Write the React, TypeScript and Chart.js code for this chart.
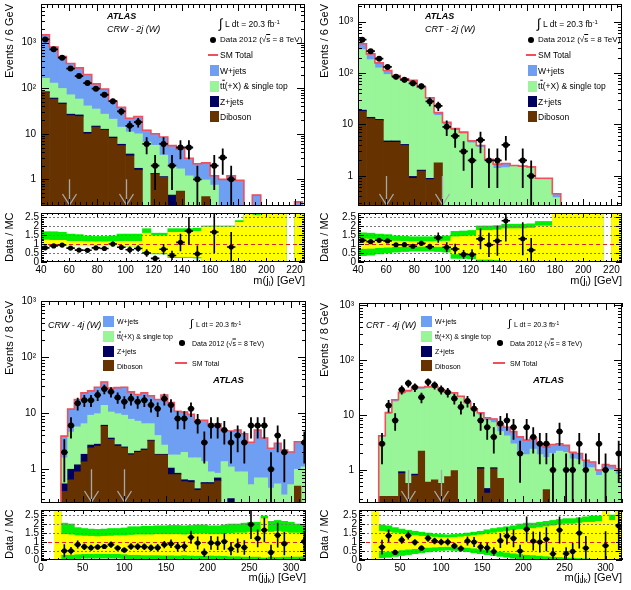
import React, { useEffect, useRef } from "react";
import { Chart, registerables } from "chart.js";

Chart.register(...registerables);

const FONT = "'Liberation Sans', Arial, Helvetica, sans-serif";
const FLOOR = 1e-4;

// ---------- tick labels ----------
const massTicks2j = [40, 60, 80, 100, 120, 140, 160, 180, 200, 220];
const massTicks4j = [0, 50, 100, 150, 200, 250, 300];
const eventTicks = [1, 10, 100, 1000];
const eventTickLabels = ["1", "10", "10²", "10³"];
const ratioTicks = [0, 0.5, 1, 1.5, 2, 2.5];
const ratioTickLabels = ["0", "0.5", "1", "1.5", "2", "2.5"];
const cutValues = [60, 100];

// ---------- CRW - 2j (W): m(j_l), 6 GeV bins from 40 GeV ----------
const crw2jFirstEdge = 40;
const crw2jBinWidth = 6;
const crw2jWjets = [1334, 670, 401, 278, 222, 159, 90, 69, 31, 24, 11, 14, 5.4, 4.4, 5.1, 3.6, 2.9, 1.7, 1.15, 1.33, 0.45, 0.8, 1.0, 0.8, 0, 0.45, 0, 0, 0, 0, 0.32];
const crw2jTtbar = [82, 69, 51.5, 45, 32, 30.2, 20.2, 14.4, 12.5, 8.1, 7.4, 8.25, 6.6, 4.25, 2.25, 1.45, 1.15, 1.2, 1.05, 0.55, 0.75, 0.2, 0.2, 0.15, 0, 0, 0, 0, 0, 0, 0];
const crw2jZjets = [4, 3, 2.5, 2, 2, 0.8, 0.8, 0.6, 0.5, 0.4, 0.3, 0.15, 0, 0.05, 0.05, 0.45, 0, 0, 0, 0, 0, 0, 0, 0, 0, 0, 0, 0, 0, 0, 0];
const crw2jDiboson = [80, 58, 45, 25, 24, 10, 14, 12, 8, 5.5, 3.3, 1.6, 0, 1.3, 1.1, 0, 0.55, 0, 0, 0.42, 0, 0, 0, 0, 0, 0, 0, 0, 0, 0, 0];
const crw2jData = [1180, 715, 470, 270, 185, 130, 98, 72, 52, 31, 15, 18, 6, 2, 6, 2, 5, 5, 1, 0, 2, 3, 1, 0, 0, 0, 0, 0, 0, 0, 0];
const crw2jBandGreenHi = [1.68, 1.68, 1.65, 1.55, 1.52, 1.45, 1.42, 1.42, 1.45, 1.55, 1.55, 1.55, 1.85, 1.6, 1.6, 1.85, 1.85, 1.85, 1.88, 2.0, 2.0, 2.0, 2.0, 2.3, 2.8, 2.7, 2.8, 2.8, 2.8, 0, 2.8];
const crw2jBandYellowHi = [1.22, 1.2, 1.2, 1.15, 1.15, 1.13, 1.12, 1.12, 1.13, 1.15, 1.15, 1.15, 1.6, 1.45, 1.45, 1.65, 1.65, 1.65, 1.7, 1.95, 1.95, 1.95, 1.95, 2.2, 2.8, 2.6, 2.8, 2.8, 2.8, 0, 2.8];
const crw2jBandYellowLo = [0.9, 0.9, 0.9, 0.9, 0.9, 0.9, 0.9, 0.9, 0.9, 0.9, 0.88, 0.88, 0.55, 0.5, 0.5, 0.3, 0.3, 0.3, 0.28, 0, 0, 0, 0, 0, 0, 0, 0, 0, 0, 0, 0];
const crw2jBandGreenLo = [0.9, 0.9, 0.9, 0.9, 0.9, 0.9, 0.9, 0.9, 0.9, 0.9, 0.88, 0.88, 0.5, 0.45, 0.45, 0.25, 0.25, 0.25, 0.22, 0, 0, 0, 0, 0, 0, 0, 0, 0, 0, 0, 0];

// ---------- CRT - 2j (W): m(j_l), 6 GeV bins from 40 GeV ----------
const crt2jFirstEdge = 40;
const crt2jBinWidth = 6;
const crt2jWjets = [85, 53, 32, 18, 10, 7, 7, 3, 2, 2, 1, 0.6, 0.5, 0.4, 0.3, 0.05, 0.3, 0.3, 0.05, 0.05, 0.05, 0.05, 0.05, 0.07, 0, 0, 0, 0, 0, 0, 0];
const crt2jTtbar = [266, 168, 113, 89, 74, 66, 64, 48.7, 30.1, 13.2, 10, 7.7, 6.6, 4.4, 3.6, 2.05, 1.4, 1.45, 1.55, 1.5, 1.45, 0.85, 0.85, 0.38, 0, 0, 0, 0, 0, 0, 0];
const crt2jZjets = [1, 0.8, 0.6, 0.3, 0.3, 0.2, 0.08, 0.05, 0.05, 0, 0, 0, 0, 0, 0, 0, 0, 0, 0, 0, 0, 0, 0, 0, 0, 0, 0, 0, 0, 0, 0];
const crt2jDiboson = [18, 13, 12, 4.5, 4.5, 3.9, 0.9, 1.25, 0.85, 1.8, 0, 0, 0, 0, 0, 0, 0, 0, 0, 0, 0, 0, 0, 0, 0, 0, 0, 0, 0, 0, 0];
const crt2jData = [445, 265, 190, 131, 85, 74, 63, 55, 28, 23, 9, 6, 3, 2, 5, 2, 2, 4, 0, 2, 1, 0, 0, 0, 0, 0, 0, 0, 0, 0, 0];
const crt2jBandGreenHi = [1.62, 1.6, 1.55, 1.52, 1.45, 1.42, 1.4, 1.4, 1.4, 1.42, 1.45, 1.7, 1.72, 1.75, 2.0, 2.0, 2.02, 2.1, 2.1, 2.1, 2.12, 2.25, 2.25, 2.7, 2.8, 2.8, 2.8, 2.8, 2.8, 0, 2.8];
const crt2jBandYellowHi = [1.28, 1.27, 1.22, 1.2, 1.16, 1.15, 1.13, 1.13, 1.13, 1.14, 1.16, 1.4, 1.42, 1.45, 1.75, 1.75, 1.78, 1.85, 1.85, 1.85, 1.88, 2.0, 2.0, 2.65, 2.8, 2.8, 2.8, 2.8, 2.8, 0, 2.8];
const crt2jBandYellowLo = [0.75, 0.76, 0.8, 0.82, 0.85, 0.86, 0.87, 0.87, 0.87, 0.86, 0.85, 0.45, 0.45, 0.42, 0.15, 0.15, 0.12, 0, 0, 0, 0, 0, 0, 0, 0, 0, 0, 0, 0, 0, 0];
const crt2jBandGreenLo = [0.35, 0.38, 0.45, 0.5, 0.55, 0.58, 0.6, 0.6, 0.6, 0.58, 0.55, 0.2, 0.2, 0.18, 0.03, 0.03, 0.02, 0, 0, 0, 0, 0, 0, 0, 0, 0, 0, 0, 0, 0, 0];

// ---------- CRW - 4j (W): m(j_i j_k), 8 GeV bins from 0 ----------
const crw4jFirstEdge = 0;
const crw4jBinWidth = 8;
const crw4jWjets = [0, 0, 0, 2.3, 7.2, 11.8, 16.5, 15.8, 19.2, 22.2, 17.5, 18.7, 19.8, 16.2, 14.3, 16.5, 14, 13.5, 18.3, 13.7, 9, 8.5, 7.9, 5.8, 6.1, 5.4, 5.6, 3.5, 3.7, 4.1, 3.4, 2.5, 4.3, 2.9, 1.9, 2.35, 1.85, 1.5, 2.1, 1.8];
const crw4jTtbar = [0, 0, 0, 1.05, 3.6, 4.5, 4.65, 6.5, 7.0, 7.7, 6.9, 7.05, 6.7, 5.9, 5.1, 4.2, 3.2, 2.15, 0.85, 0.75, 0.95, 1.35, 0.97, 1.15, 0.79, 0.32, 0.15, 1.37, 0.8, 0.9, 0.9, 0.53, 0.7, 0.7, 0.46, 0.55, 0.35, 0.53, 0.5, 1.1];
const crw4jZjets = [0, 0, 0, 0.15, 0.35, 0.3, 0.5, 0.3, 0.2, 0.3, 0.2, 0.15, 0.1, 0.1, 0.1, 0.1, 0.1, 0.05, 0.05, 0.25, 0.05, 0.05, 0.05, 0.03, 0.03, 0.03, 0.08, 0, 0.3, 0, 0, 0, 0, 0, 0, 0, 0, 0, 0, 0];
const crw4jDiboson = [0, 0, 0, 0.4, 0.65, 0.9, 1.35, 2.4, 2.6, 5.8, 3.4, 2.6, 2.4, 1.8, 2.0, 2.2, 3.2, 1.8, 1.8, 0.8, 0.8, 0.6, 0.58, 0.42, 0.55, 0.55, 0.62, 0, 0, 0, 0, 0, 0, 0, 0, 0, 0, 0, 0.5, 0];
const crw4jData = [0, 0, 0, 2, 6, 15, 17, 17, 21, 27, 24, 19, 16, 18, 16, 17, 14, 12, 18, 14, 8, 8, 12, 7, 3, 6, 6, 5, 3, 4, 3, 6, 6, 6, 1, 4, 2, 0, 0, 3];
const crw4jBandGreenHi = [0, 0, 2.8, 2.05, 2.0, 1.8, 1.75, 1.72, 1.7, 1.72, 1.75, 1.75, 1.78, 1.85, 1.85, 1.88, 1.88, 1.9, 1.9, 1.92, 1.92, 1.9, 1.92, 1.95, 1.95, 1.9, 1.9, 1.95, 2.0, 2.0, 2.05, 2.1, 2.1, 2.45, 2.15, 2.2, 2.15, 2.1, 2.0, 1.95];
const crw4jBandYellowHi = [0, 0, 2.8, 1.42, 1.4, 1.35, 1.33, 1.32, 1.3, 1.32, 1.33, 1.35, 1.35, 1.38, 1.4, 1.4, 1.4, 1.42, 1.42, 1.42, 1.42, 1.4, 1.42, 1.45, 1.45, 1.42, 1.42, 1.45, 1.48, 1.5, 1.5, 1.55, 1.55, 2.3, 1.55, 1.6, 1.55, 1.5, 1.5, 1.45];
const crw4jBandYellowLo = [0, 0, 0, 0.3, 0.3, 0.33, 0.35, 0.35, 0.36, 0.35, 0.35, 0.35, 0.33, 0.3, 0.3, 0.28, 0.28, 0.28, 0.27, 0.27, 0.26, 0.28, 0.26, 0.25, 0.25, 0.26, 0.25, 0.24, 0.22, 0.22, 0.2, 0.2, 0.2, 0.15, 0.2, 0.18, 0.2, 0.2, 0.2, 0.22];
const crw4jBandGreenLo = [0, 0, 0, 0.05, 0.05, 0.08, 0.1, 0.1, 0.1, 0.1, 0.1, 0.1, 0.08, 0.05, 0.05, 0.04, 0.04, 0.04, 0.03, 0.03, 0.02, 0.03, 0.02, 0.02, 0.02, 0.02, 0.02, 0.01, 0, 0, 0, 0, 0, 0, 0, 0, 0, 0, 0, 0];

// ---------- CRT - 4j (W): m(j_i j_k), 8 GeV bins from 0 ----------
const crt4jFirstEdge = 0;
const crt4jBinWidth = 8;
const crt4jWjets = [0, 0, 0, 0.2, 0.8, 1.5, 2, 2.2, 2.4, 2.2, 2, 1.8, 1.6, 1.4, 1.3, 1.2, 1.0, 1.0, 0.9, 1.0, 1.2, 1.5, 1.8, 2.0, 1.8, 1.6, 1.4, 1.1, 0.9, 0.9, 0.8, 0.7, 0.5, 0.45, 0.4, 0.3, 0.2, 0.25, 0.2, 0.2];
const crt4jTtbar = [0, 0, 0, 3.67, 9.97, 17.2, 23.1, 25.2, 29.3, 27.6, 30.4, 30.5, 26.8, 23.8, 23.3, 20.8, 16, 12, 9, 7.5, 6.2, 4.3, 4.2, 3.0, 2.2, 1.9, 2.4, 1.9, 1.26, 2.0, 2.2, 2.1, 1.6, 1.55, 1.1, 1.1, 0.8, 1.0, 1.0, 0.85];
const crt4jZjets = [0, 0, 0, 0, 0, 0, 0.06, 0, 0.05, 0, 0, 0, 0, 0, 0, 0, 0, 0, 0.06, 0.08, 0.05, 0, 0, 0, 0, 0, 0, 0, 0, 0, 0, 0, 0, 0, 0, 0, 0, 0, 0, 0];
const crt4jDiboson = [0, 0, 0, 0.33, 0.33, 0.33, 0.87, 0.57, 0.79, 2.2, 0.6, 0.66, 0.57, 0.76, 0.97, 0, 0, 0, 1.05, 0.38, 1.05, 0.7, 0, 0, 0, 0, 0, 0, 0.44, 0, 0, 0, 0, 0, 0, 0, 0, 0, 0, 0];
const crt4jData = [0, 0, 0, 3, 15, 8, 29, 38, 32, 21, 40, 35, 29, 26, 20, 14, 18, 13, 8, 6, 4, 7, 8, 6, 2, 6, 4, 3, 3, 1, 5, 1, 1, 3, 1, 0, 3, 1, 0, 2];
const crt4jBandGreenHi = [0, 0, 2.8, 1.95, 1.9, 1.8, 1.72, 1.65, 1.6, 1.55, 1.5, 1.45, 1.42, 1.4, 1.42, 1.45, 1.5, 1.55, 1.6, 1.68, 1.75, 1.8, 1.85, 1.9, 2.0, 2.05, 2.05, 2.1, 2.15, 2.2, 2.25, 2.3, 2.3, 2.35, 2.4, 2.45, 2.45, 2.8, 2.5, 2.8];
const crt4jBandYellowHi = [0, 0, 2.8, 1.6, 1.55, 1.5, 1.45, 1.4, 1.36, 1.32, 1.3, 1.27, 1.25, 1.24, 1.25, 1.28, 1.32, 1.36, 1.4, 1.45, 1.5, 1.55, 1.6, 1.65, 1.7, 1.75, 1.75, 1.8, 1.85, 1.9, 1.95, 2.0, 2.0, 2.05, 2.1, 2.1, 2.15, 2.7, 2.2, 2.8];
const crt4jBandYellowLo = [0, 0, 0, 0.45, 0.48, 0.52, 0.56, 0.6, 0.63, 0.66, 0.7, 0.72, 0.74, 0.75, 0.74, 0.72, 0.7, 0.66, 0.62, 0.57, 0.52, 0.48, 0.43, 0.38, 0.34, 0.3, 0.28, 0.25, 0.22, 0.2, 0.18, 0.15, 0.14, 0.12, 0.1, 0.08, 0.06, 0, 0.05, 0];
const crt4jBandGreenLo = [0, 0, 0, 0.12, 0.15, 0.2, 0.25, 0.3, 0.35, 0.4, 0.45, 0.5, 0.53, 0.55, 0.53, 0.5, 0.46, 0.4, 0.35, 0.3, 0.25, 0.2, 0.15, 0.1, 0.07, 0.05, 0.04, 0.03, 0.02, 0, 0, 0, 0, 0, 0, 0, 0, 0, 0, 0];

// ---------- colours ----------
const C_W = "#6e9ff2";
const C_TT = "#98f598";
const C_Z = "#00005e";
const C_DB = "#663300";
const C_SM = "#f0505e";
const C_YEL = "#ffff00";
const C_GRN = "#00ee00";
const C_ARROW = "#a8a8a8";

const PANELS: any[] = [
  {
    id: "crw2j", edge0: crw2jFirstEdge, bw: crw2jBinWidth, xmin: 40, xmax: 227.4, ymin: 0.26, ymax: 7080, rmax: 2.72,
    wjets: crw2jWjets, ttbar: crw2jTtbar, zjets: crw2jZjets, diboson: crw2jDiboson, data: crw2jData,
    gH: crw2jBandGreenHi, yH: crw2jBandYellowHi, yL: crw2jBandYellowLo, gL: crw2jBandGreenLo,
    xTicks: massTicks2j, xMinorStep: 4,
    main: { l: 0, t: 0, w: 315, h: 210, al: 41, at: 4, ar: 305, ab: 208 },
    ratio: { l: 0, t: 209, w: 315, h: 72, al: 41, at: 213, ar: 305, ab: 262 },
  },
  {
    id: "crt2j", edge0: crt2jFirstEdge, bw: crt2jBinWidth, xmin: 40, xmax: 227.5, ymin: 0.261, ymax: 2190, rmax: 2.72,
    wjets: crt2jWjets, ttbar: crt2jTtbar, zjets: crt2jZjets, diboson: crt2jDiboson, data: crt2jData,
    gH: crt2jBandGreenHi, yH: crt2jBandYellowHi, yL: crt2jBandYellowLo, gL: crt2jBandGreenLo,
    xTicks: massTicks2j, xMinorStep: 4,
    main: { l: 315, t: 0, w: 316, h: 210, al: 358, at: 4, ar: 622, ab: 208 },
    ratio: { l: 315, t: 209, w: 316, h: 72, al: 358, at: 213, ar: 622, ab: 262 },
  },
  {
    id: "crw4j", edge0: crw4jFirstEdge, bw: crw4jBinWidth, xmin: 0, xmax: 318, ymin: 0.25, ymax: 1000, rmax: 2.78,
    wjets: crw4jWjets, ttbar: crw4jTtbar, zjets: crw4jZjets, diboson: crw4jDiboson, data: crw4jData,
    gH: crw4jBandGreenHi, yH: crw4jBandYellowHi, yL: crw4jBandYellowLo, gL: crw4jBandGreenLo,
    xTicks: massTicks4j, xMinorStep: 10,
    main: { l: 0, t: 292, w: 315, h: 215, al: 41, at: 301, ar: 306, ab: 505 },
    ratio: { l: 0, t: 506, w: 315, h: 72, al: 41, at: 509, ar: 306, ab: 560 },
  },
  {
    id: "crt4j", edge0: crt4jFirstEdge, bw: crt4jBinWidth, xmin: 0, xmax: 320, ymin: 0.25, ymax: 1100, rmax: 2.78,
    wjets: crt4jWjets, ttbar: crt4jTtbar, zjets: crt4jZjets, diboson: crt4jDiboson, data: crt4jData,
    gH: crt4jBandGreenHi, yH: crt4jBandYellowHi, yL: crt4jBandYellowLo, gL: crt4jBandGreenLo,
    xTicks: massTicks4j, xMinorStep: 10,
    main: { l: 315, t: 292, w: 316, h: 215, al: 359, at: 303, ar: 622, ab: 505 },
    ratio: { l: 315, t: 506, w: 316, h: 72, al: 359, at: 509, ar: 622, ab: 560 },
  },
];

function linSteps(min: number, max: number, step: number) {
  const out: number[] = [];
  const n0 = Math.ceil(min / step - 1e-9);
  for (let k = n0; k * step <= max + 1e-9; k++) out.push(+(k * step).toFixed(6));
  return out;
}
function logSteps(min: number, max: number) {
  const out: number[] = [];
  for (let e = -2; e <= 4; e++) for (let k = 1; k <= 9; k++) {
    const v = k * Math.pow(10, e);
    if (v >= min && v <= max) out.push(v);
  }
  return out;
}

function rootPlugin(o: any) {
  return {
    id: "rootFrame",
    afterDatasetDraw(chart: any, args: any) {
      if (!o.hLines || args.index !== o.hLinesAfter) return;
      const { ctx, chartArea: a, scales } = chart;
      const y = scales.y;
      ctx.save();
      ctx.beginPath();
      ctx.rect(a.left, a.top, a.right - a.left, a.bottom - a.top);
      ctx.clip();
      for (const h of o.hLines) {
        const py = Math.round(y.getPixelForValue(h.v)) + 0.5;
        ctx.strokeStyle = h.color;
        ctx.lineWidth = 1;
        ctx.setLineDash(h.dash);
        ctx.beginPath();
        ctx.moveTo(a.left, py);
        ctx.lineTo(a.right, py);
        ctx.stroke();
      }
      ctx.restore();
    },
    afterDatasetsDraw(chart: any) {
      const { ctx, chartArea: a, scales } = chart;
      const x = scales.x, y = scales.y;
      ctx.save();
      ctx.beginPath();
      ctx.rect(a.left, a.top, a.right - a.left, a.bottom - a.top);
      ctx.clip();
      if (o.arrows) {
        ctx.strokeStyle = C_ARROW;
        ctx.lineWidth = 1.3;
        for (const av of o.arrows) {
          const px = Math.round(x.getPixelForValue(av)) + 0.5;
          const top = y.getPixelForValue(o.arrowTop);
          ctx.beginPath();
          ctx.moveTo(px, top);
          ctx.lineTo(px, a.bottom - 1);
          ctx.moveTo(px - 7, a.bottom - 12);
          ctx.lineTo(px, a.bottom - 1);
          ctx.lineTo(px + 7, a.bottom - 12);
          ctx.stroke();
        }
      }
      ctx.strokeStyle = "#000";
      ctx.lineWidth = o.errW;
      for (const e of o.errs) {
        const px = x.getPixelForValue(e.x);
        const py = y.getPixelForValue(e.y);
        ctx.beginPath();
        ctx.moveTo(x.getPixelForValue(e.x - e.hw), py);
        ctx.lineTo(x.getPixelForValue(e.x + e.hw), py);
        ctx.moveTo(px, y.getPixelForValue(e.lo));
        ctx.lineTo(px, y.getPixelForValue(e.hi));
        ctx.stroke();
      }
      ctx.restore();

      ctx.save();
      ctx.strokeStyle = "#000";
      ctx.lineWidth = 1;
      ctx.strokeRect(a.left + 0.5, a.top + 0.5, a.right - a.left - 1, a.bottom - a.top - 1);
      ctx.beginPath();
      const tx = (vals: number[], len: number) => {
        for (const v of vals) {
          if (v < x.min || v > x.max) continue;
          const px = Math.round(x.getPixelForValue(v)) + 0.5;
          ctx.moveTo(px, a.bottom);
          ctx.lineTo(px, a.bottom - len);
          ctx.moveTo(px, a.top);
          ctx.lineTo(px, a.top + len);
        }
      };
      const ty = (vals: number[], len: number) => {
        for (const v of vals) {
          if (v < y.min || v > y.max) continue;
          const py = Math.round(y.getPixelForValue(v)) + 0.5;
          ctx.moveTo(a.left, py);
          ctx.lineTo(a.left + len, py);
          ctx.moveTo(a.right, py);
          ctx.lineTo(a.right - len, py);
        }
      };
      tx(o.xMin, o.len.xMin);
      tx(o.xMaj, o.len.xMaj);
      ty(o.yMin, o.len.yMin);
      ty(o.yMaj, o.len.yMaj);
      ctx.stroke();
      ctx.restore();
    },
  };
}

function centersOf(p: any) {
  return p.wjets.map((_: number, i: number) => p.edge0 + p.bw * (i + 0.5));
}
function totalsOf(p: any) {
  return p.wjets.map((_: number, i: number) => p.wjets[i] + p.ttbar[i] + p.zjets[i] + p.diboson[i]);
}

const tickFont = { family: FONT, size: 10 };
const noGrid = { display: false, drawTicks: false };

function fixX(h: number) {
  return (s: any) => { s.height = h; s.paddingLeft = 0; s.paddingRight = 0; s.paddingTop = 0; s.paddingBottom = 0; };
}
function fixY(w: number) {
  return (s: any) => { s.width = w; s.paddingLeft = 0; s.paddingRight = 0; s.paddingTop = 0; s.paddingBottom = 0; };
}

function mainConfig(p: any) {
  const m = p.main;
  const centers = centersOf(p);
  const acc = centers.map(() => 0);
  const layers: [number[], string][] = [
    [p.diboson, C_DB],
    [p.zjets, C_Z],
    [p.ttbar, C_TT],
    [p.wjets, C_W],
  ];
  const bars = layers.map(([vals, color]) => ({
    type: "bar",
    order: 3,
    backgroundColor: color,
    borderWidth: 0,
    barPercentage: 1,
    categoryPercentage: 1,
    grouped: false,
    data: centers.map((c: number, i: number) => {
      const lo = acc[i];
      acc[i] += vals[i];
      if (!(vals[i] > 0)) return { x: c, y: [FLOOR, FLOOR] };
      return { x: c, y: [Math.max(lo, FLOOR), Math.max(acc[i], FLOOR)] };
    }),
  }));
  const outline: any[] = [];
  acc.forEach((t: number, i: number) => {
    const e = p.edge0 + p.bw * i;
    const v = Math.max(t, FLOOR);
    outline.push({ x: e, y: v }, { x: e + p.bw, y: v });
  });
  const pts: any[] = [];
  const errs: any[] = [];
  p.data.forEach((d: number, i: number) => {
    if (d > 0) {
      const s = Math.sqrt(d);
      pts.push({ x: centers[i], y: d });
      errs.push({ x: centers[i], y: d, hw: p.bw / 2, lo: Math.max(d - s, FLOOR), hi: d + s });
    }
  });
  return {
    type: "bar",
    data: {
      datasets: [
        ...bars,
        { type: "line", order: 1, data: outline, borderColor: C_SM, borderWidth: 1.6, pointRadius: 0, fill: false, tension: 0 },
        { type: "scatter", order: 0, data: pts, pointRadius: 3, pointBackgroundColor: "#000", pointBorderWidth: 0 },
      ],
    },
    options: {
      animation: false,
      responsive: false,
      maintainAspectRatio: false,
      events: [],
      layout: { padding: { top: m.at - m.t, right: m.l + m.w - m.ar, left: 0, bottom: 0 } },
      plugins: { legend: { display: false }, tooltip: { enabled: false } },
      scales: {
        x: {
          type: "linear", min: p.xmin, max: p.xmax, offset: false,
          grid: noGrid, border: { display: false },
          ticks: { display: false },
          afterBuildTicks: (s: any) => { s.ticks = p.xTicks.map((v: number) => ({ value: v })); },
          afterFit: fixX(m.t + m.h - m.ab),
        },
        y: {
          type: "logarithmic", min: p.ymin, max: p.ymax,
          grid: noGrid, border: { display: false },
          ticks: {
            autoSkip: false, padding: 5, color: "#000", font: tickFont,
            callback: (v: number) => { const k = eventTicks.indexOf(v); return k >= 0 ? eventTickLabels[k] : ""; },
          },
          afterBuildTicks: (s: any) => { s.ticks = eventTicks.filter((v) => v >= p.ymin && v <= p.ymax).map((v) => ({ value: v })); },
          afterFit: fixY(m.al - m.l),
        },
      },
    },
    plugins: [
      rootPlugin({
        errs, errW: 1.8, arrows: cutValues, arrowTop: 1,
        xMaj: p.xTicks, xMin: linSteps(p.xmin, p.xmax, p.xMinorStep),
        yMaj: eventTicks, yMin: logSteps(p.ymin, p.ymax),
        len: { xMaj: 7, xMin: 4, yMaj: 8, yMin: 4 },
      }),
    ],
  };
}

function ratioConfig(p: any) {
  const r = p.ratio;
  const centers = centersOf(p);
  const totals = totalsOf(p);
  const band = (lo: number[], hi: number[], color: string, order: number) => ({
    type: "bar", order, backgroundColor: color, borderWidth: 0, barPercentage: 1, categoryPercentage: 1, grouped: false,
    data: centers.map((c: number, i: number) => ({ x: c, y: hi[i] > 0 ? [lo[i], hi[i]] : [-1, -1] })),
  });
  const pts: any[] = [];
  const errs: any[] = [];
  p.data.forEach((d: number, i: number) => {
    const t = totals[i];
    if (d > 0 && t > 0) {
      const q = d / t;
      if (q > p.rmax) return;
      const e = Math.sqrt(d) / t;
      pts.push({ x: centers[i], y: q });
      errs.push({ x: centers[i], y: q, hw: p.bw / 2, lo: q - e, hi: q + e });
    }
  });
  return {
    type: "bar",
    data: {
      datasets: [
        band(p.gL, p.gH, C_GRN, 3),
        band(p.yL, p.yH, C_YEL, 2),
        { type: "scatter", order: 0, data: pts, pointRadius: 2.6, pointBackgroundColor: "#000", pointBorderWidth: 0 },
      ],
    },
    options: {
      animation: false,
      responsive: false,
      maintainAspectRatio: false,
      events: [],
      layout: { padding: { top: r.at - r.t, right: r.l + r.w - r.ar, left: 0, bottom: 0 } },
      plugins: { legend: { display: false }, tooltip: { enabled: false } },
      scales: {
        x: {
          type: "linear", min: p.xmin, max: p.xmax, offset: false,
          grid: noGrid, border: { display: false },
          ticks: { autoSkip: false, maxRotation: 0, padding: 2, color: "#000", font: tickFont, callback: (v: number) => String(v) },
          afterBuildTicks: (s: any) => { s.ticks = p.xTicks.map((v: number) => ({ value: v })); },
          afterFit: fixX(r.t + r.h - r.ab),
        },
        y: {
          type: "linear", min: 0, max: p.rmax,
          grid: noGrid, border: { display: false },
          ticks: {
            autoSkip: false, padding: 2, color: "#000", font: tickFont,
            callback: (v: number) => { const k = ratioTicks.indexOf(v); return k >= 0 ? ratioTickLabels[k] : ""; },
          },
          afterBuildTicks: (s: any) => { s.ticks = ratioTicks.map((v) => ({ value: v })); },
          afterFit: fixY(r.al - r.l),
        },
      },
    },
    plugins: [
      rootPlugin({
        errs, errW: 1.6,
        hLinesAfter: 1,
        hLines: [
          { v: 0.5, color: "#777", dash: [2, 2] },
          { v: 1.5, color: "#777", dash: [2, 2] },
          { v: 2, color: "#777", dash: [2, 2] },
          { v: 2.5, color: "#777", dash: [2, 2] },
          { v: 1, color: "#e02020", dash: [4, 3] },
        ],
        xMaj: p.xTicks, xMin: linSteps(p.xmin, p.xmax, p.xMinorStep),
        yMaj: ratioTicks, yMin: linSteps(0, p.rmax, 0.1),
        len: { xMaj: 4, xMin: 2, yMaj: 6, yMin: 3 },
      }),
    ],
  };
}

function ChartBox({ rect, make }: { rect: any; make: () => any }) {
  const ref = useRef<HTMLCanvasElement | null>(null);
  useEffect(() => {
    const chart = new Chart(ref.current as HTMLCanvasElement, make() as any);
    return () => chart.destroy();
  }, []);
  return (
    <canvas
      ref={ref}
      width={rect.w}
      height={rect.h}
      style={{ position: "absolute", left: rect.l, top: rect.t, width: rect.w, height: rect.h }}
    />
  );
}

// ---------- HTML text helpers ----------
function Txt({ x, y, s, b, i, children }: any) {
  return (
    <div style={{ position: "absolute", left: x, top: y, fontSize: s, lineHeight: 1, transform: "translateY(-50%)", whiteSpace: "nowrap", fontWeight: b ? 700 : 400, fontStyle: i ? "italic" : "normal" }}>
      {children}
    </div>
  );
}
function Swatch({ x, y, w, h, c }: any) {
  return <div style={{ position: "absolute", left: x, top: y - h / 2, width: w, height: h, background: c }} />;
}
function Dot({ x, y, r }: any) {
  return <div style={{ position: "absolute", left: x - r, top: y - r, width: 2 * r, height: 2 * r, borderRadius: "50%", background: "#000" }} />;
}
function Seg({ x1, x2, y, c }: any) {
  return <div style={{ position: "absolute", left: x1, top: y - 1, width: x2 - x1, height: 2, background: c }} />;
}
function VTitle({ cx, top, h, s, align, children }: any) {
  return (
    <div style={{ position: "absolute", left: cx - s / 2, top, width: s, height: h, fontSize: s, lineHeight: 1, writingMode: "vertical-rl", transform: "rotate(180deg)", textAlign: align, whiteSpace: "nowrap" }}>
      {children}
    </div>
  );
}
function XTitle({ right, y, s, children }: any) {
  return (
    <div style={{ position: "absolute", right: 631 - right, top: y, fontSize: s, lineHeight: 1, transform: "translateY(-50%)", whiteSpace: "nowrap" }}>
      {children}
    </div>
  );
}
const Sub = ({ children }: any) => (
  <span style={{ fontSize: "0.62em", position: "relative", top: "0.35em", lineHeight: 0 }}>{children}</span>
);
const Sup = ({ children }: any) => (
  <span style={{ fontSize: "0.7em", position: "relative", top: "-0.45em", lineHeight: 0 }}>{children}</span>
);
const Bar = ({ children }: any) => <span style={{ textDecoration: "overline" }}>{children}</span>;

function Legend2j({ ox, region }: { ox: number; region: string }) {
  const s = 8.5;
  return (
    <>
      <Txt x={107 + ox} y={16} s={9} b i>ATLAS</Txt>
      <Txt x={107 + ox} y={29} s={9} i>{region}</Txt>
      <Txt x={219 + ox} y={23} s={13}>∫</Txt>
      <Txt x={225 + ox} y={24} s={s}>L dt = 20.3 fb<Sup>-1</Sup></Txt>
      <Dot x={213 + ox} y={40} r={3} />
      <Txt x={220 + ox} y={40} s={8}>Data 2012 (√<Bar>s</Bar> = 8 TeV)</Txt>
      <Seg x1={208 + ox} x2={218 + ox} y={55} c={C_SM} />
      <Txt x={220 + ox} y={55} s={s}>SM Total</Txt>
      <Swatch x={210 + ox} y={70.5} w={9} h={11} c={C_W} />
      <Txt x={220 + ox} y={70.5} s={s}>W+jets</Txt>
      <Swatch x={210 + ox} y={86} w={9} h={11} c={C_TT} />
      <Txt x={220 + ox} y={86} s={s}>t<Bar>t</Bar>(+X) &amp; single top</Txt>
      <Swatch x={210 + ox} y={101.5} w={9} h={11} c={C_Z} />
      <Txt x={220 + ox} y={101.5} s={s}>Z+jets</Txt>
      <Swatch x={210 + ox} y={116.5} w={9} h={11} c={C_DB} />
      <Txt x={220 + ox} y={116.5} s={s}>Diboson</Txt>
    </>
  );
}

function Legend4j({ ox, region, atlasX }: { ox: number; region: string; atlasX: number }) {
  const s = 7;
  return (
    <>
      <Txt x={48 + ox} y={325} s={9} i>{region}</Txt>
      <Swatch x={103 + ox} y={321} w={11} h={11} c={C_W} />
      <Txt x={117 + ox} y={321} s={s}>W+jets</Txt>
      <Swatch x={103 + ox} y={336} w={11} h={11} c={C_TT} />
      <Txt x={117 + ox} y={336} s={s}>t<Bar>t</Bar>(+X) &amp; single top</Txt>
      <Swatch x={103 + ox} y={351} w={11} h={11} c={C_Z} />
      <Txt x={117 + ox} y={351} s={s}>Z+jets</Txt>
      <Swatch x={103 + ox} y={365.5} w={11} h={11} c={C_DB} />
      <Txt x={117 + ox} y={365.5} s={s}>Diboson</Txt>
      <Txt x={190 + ox} y={323} s={11}>∫</Txt>
      <Txt x={196 + ox} y={324} s={s}>L dt = 20.3 fb<Sup>-1</Sup></Txt>
      <Dot x={182 + ox} y={343} r={2.8} />
      <Txt x={192 + ox} y={343} s={s}>Data 2012 (√<Bar>s</Bar> = 8 TeV)</Txt>
      <Seg x1={175 + ox} x2={187 + ox} y={363} c={C_SM} />
      <Txt x={192 + ox} y={363} s={s}>SM Total</Txt>
      <Txt x={atlasX} y={380} s={9.5} b i>ATLAS</Txt>
    </>
  );
}

export default function App() {
  return (
    <div style={{ position: "fixed", left: 0, top: 0, width: 631, height: 590, background: "#fff", overflow: "hidden", fontFamily: FONT, color: "#000" }}>
      {PANELS.map((p) => (
        <React.Fragment key={p.id}>
          <ChartBox rect={p.main} make={() => mainConfig(p)} />
          <ChartBox rect={p.ratio} make={() => ratioConfig(p)} />
        </React.Fragment>
      ))}

      <Legend2j ox={0} region="CRW - 2j (W)" />
      <Legend2j ox={318} region="CRT - 2j (W)" />
      <Legend4j ox={0} region="CRW - 4j (W)" atlasX={213} />
      <Legend4j ox={318} region="CRT - 4j (W)" atlasX={533} />

      <VTitle cx={9} top={4} h={200} s={11} align="end">Events / 6 GeV</VTitle>
      <VTitle cx={9} top={213} h={49} s={11} align="center">Data / MC</VTitle>
      <XTitle right={305} y={280} s={11}>m(j<Sub>l</Sub>) [GeV]</XTitle>

      <VTitle cx={324} top={4} h={200} s={11} align="end">Events / 6 GeV</VTitle>
      <VTitle cx={324} top={213} h={49} s={11} align="center">Data / MC</VTitle>
      <XTitle right={622} y={280} s={11}>m(j<Sub>l</Sub>) [GeV]</XTitle>

      <VTitle cx={9} top={301} h={200} s={11} align="end">Events / 8 GeV</VTitle>
      <VTitle cx={9} top={509} h={51} s={11} align="center">Data / MC</VTitle>
      <XTitle right={306} y={577} s={11}>m(j<Sub>i</Sub>j<Sub>k</Sub>) [GeV]</XTitle>

      <VTitle cx={324} top={303} h={200} s={11} align="end">Events / 8 GeV</VTitle>
      <VTitle cx={324} top={509} h={51} s={11} align="center">Data / MC</VTitle>
      <XTitle right={622} y={577} s={11}>m(j<Sub>i</Sub>j<Sub>k</Sub>) [GeV]</XTitle>
    </div>
  );
}
